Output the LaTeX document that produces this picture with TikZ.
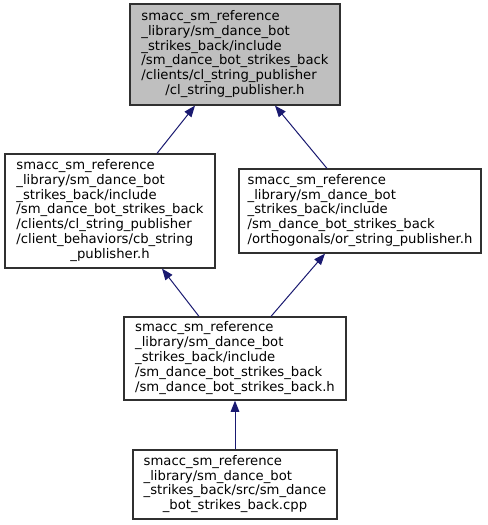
\documentclass[tikz,border=0pt]{standalone}
\usepackage{fontspec}
\setmainfont{DejaVu Sans}
\usetikzlibrary{arrows.meta,calc}
\definecolor{edgenavy}{RGB}{25,25,112}
\definecolor{rootgray}{RGB}{191,191,191}
\definecolor{framegray}{RGB}{48,48,48}
\newcommand{\filelabel}[2]{\begin{tabular}{@{}l@{}}#1\\\multicolumn{1}{@{}c@{}}{#2}\end{tabular}}
\tikzset{file/.style={draw=framegray, fill=#1, line width=0.9pt, inner sep=0pt,
             font=\fontsize{9.9}{11.1}\selectfont},
         file/.default=white,
         dep/.style={draw=edgenavy, line width=0.75pt, -{Triangle[length=8.5pt,width=6.5pt]}}}

\begin{document}
\begin{tikzpicture}[x=0.75pt,y=-0.75pt]
  \useasboundingbox (0,0) rectangle (487,525);
  \node[file=rootgray, minimum width=210*0.75pt, minimum height=101*0.75pt] (clpub) at (235,54.5)
    {\filelabel{smacc\_sm\_reference\\\_library/sm\_dance\_bot\\\_strikes\_back/include\\/sm\_dance\_bot\_strikes\_back\\/clients/cl\_string\_publisher}{/cl\_string\_publisher.h}};
  \node[file, minimum width=210*0.75pt, minimum height=114*0.75pt] (cbpub) at (110,211)
    {\filelabel{smacc\_sm\_reference\\\_library/sm\_dance\_bot\\\_strikes\_back/include\\/sm\_dance\_bot\_strikes\_back\\/clients/cl\_string\_publisher\\/client\_behaviors/cb\_string}{\_publisher.h}};
  \node[file, minimum width=242*0.75pt, minimum height=84*0.75pt] (orpub) at (360,211)
    {\filelabel{smacc\_sm\_reference\\\_library/sm\_dance\_bot\\\_strikes\_back/include\\/sm\_dance\_bot\_strikes\_back}{/orthogonals/or\_string\_publisher.h}};
  \node[file, minimum width=222*0.75pt, minimum height=83*0.75pt] (smhdr) at (235,358.5)
    {\filelabel{smacc\_sm\_reference\\\_library/sm\_dance\_bot\\\_strikes\_back/include\\/sm\_dance\_bot\_strikes\_back}{/sm\_dance\_bot\_strikes\_back.h}};
  \node[file, minimum width=204*0.75pt, minimum height=69*0.75pt] (smsrc) at (235,484.5)
    {\filelabel{smacc\_sm\_reference\\\_library/sm\_dance\_bot\\\_strikes\_back/src/sm\_dance}{\_bot\_strikes\_back.cpp}};

  \draw[dep] ($(cbpub.north)+(47,0)$) -- ($(clpub.south)+(-40,0)$);
  \draw[dep] ($(orpub.north)+(-33,0)$) -- ($(clpub.south)+(40,0)$);
  \draw[dep] ($(smhdr.north)+(-36,0)$) -- ($(cbpub.south)+(52,0)$);
  \draw[dep] ($(smhdr.north)+(36,0)$) -- ($(orpub.south)+(-35,0)$);
  \draw[dep] (smsrc) -- (smhdr);
\end{tikzpicture}
\end{document}
